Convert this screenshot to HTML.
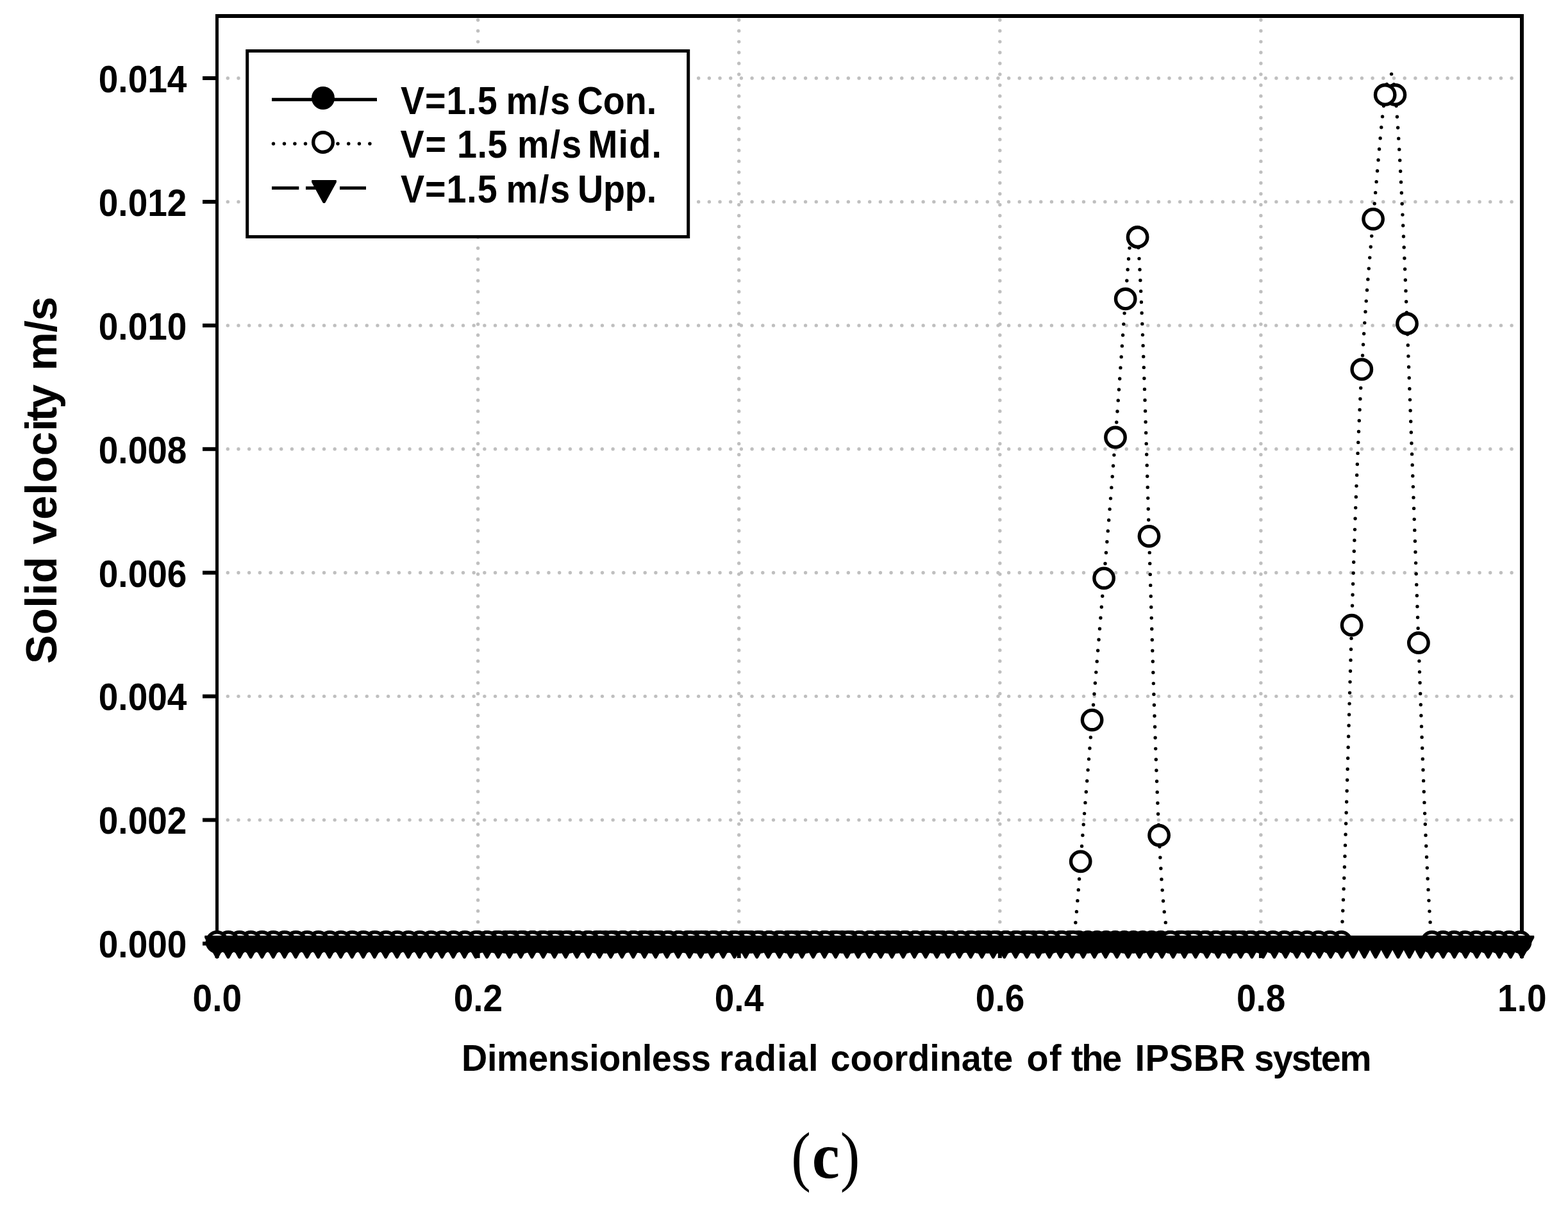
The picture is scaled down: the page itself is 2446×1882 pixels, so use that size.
<!DOCTYPE html>
<html lang="en">
<head>
<meta charset="utf-8">
<title>Solid velocity vs dimensionless radial coordinate of the IPSBR system (c)</title>
<style>
html,body{margin:0;padding:0;background:#fff;}
body{width:2446px;height:1882px;overflow:hidden;}
svg{display:block;}
</style>
</head>
<body>
<svg width="2446" height="1882" viewBox="0 0 2446 1882" shape-rendering="geometricPrecision">
<g stroke="#bfbfbf" stroke-width="5.4" stroke-linecap="round" stroke-dasharray="0 16.69" fill="none"><line x1="355.3" y1="1279.6" x2="2359.5" y2="1279.6"/><line x1="355.3" y1="1086.6" x2="2359.5" y2="1086.6"/><line x1="355.3" y1="893.7" x2="2359.5" y2="893.7"/><line x1="355.3" y1="700.8" x2="2359.5" y2="700.8"/><line x1="355.3" y1="507.9" x2="2359.5" y2="507.9"/><line x1="355.3" y1="314.9" x2="2359.5" y2="314.9"/><line x1="355.3" y1="122.0" x2="2359.5" y2="122.0"/></g>
<g stroke="#bfbfbf" stroke-width="5.4" stroke-linecap="round" stroke-dasharray="0 16.957" fill="none"><line x1="745.6" y1="31.2" x2="745.6" y2="1450"/><line x1="1152.7" y1="31.2" x2="1152.7" y2="1450"/><line x1="1559.8" y1="31.2" x2="1559.8" y2="1450"/><line x1="1966.9" y1="31.2" x2="1966.9" y2="1450"/></g>
<g fill="#000">
<rect x="336" y="22" width="2041" height="6"/>
<rect x="336" y="1469.5" width="2041" height="6"/>
<rect x="336" y="22" width="5" height="1453.5"/>
<rect x="2371" y="22" width="6" height="1453.5"/>
<rect x="316" y="1469.5" width="21" height="6"/>
<rect x="316" y="1276.6" width="21" height="6"/>
<rect x="316" y="1083.6" width="21" height="6"/>
<rect x="316" y="890.7" width="21" height="6"/>
<rect x="316" y="697.8" width="21" height="6"/>
<rect x="316" y="504.9" width="21" height="6"/>
<rect x="316" y="311.9" width="21" height="6"/>
<rect x="316" y="119.0" width="21" height="6"/>
<rect x="335.5" y="1472.5" width="6" height="22.6"/>
<rect x="742.6" y="1472.5" width="6" height="22.6"/>
<rect x="1149.7" y="1472.5" width="6" height="22.6"/>
<rect x="1556.8" y="1472.5" width="6" height="22.6"/>
<rect x="1963.9" y="1472.5" width="6" height="22.6"/>
<rect x="2371.0" y="1472.5" width="6" height="22.6"/>
</g>
<line x1="745.6" y1="1471.5" x2="1966.9" y2="1471.5" stroke="#000" stroke-width="5"/>
<g fill="#000"><circle cx="745.6" cy="1470.0" r="17.9"/><circle cx="759.8" cy="1470.0" r="17.9"/><circle cx="774.0" cy="1470.0" r="17.9"/><circle cx="788.2" cy="1470.0" r="17.9"/><circle cx="802.4" cy="1470.0" r="17.9"/><circle cx="816.6" cy="1470.0" r="17.9"/><circle cx="830.8" cy="1470.0" r="17.9"/><circle cx="845.0" cy="1470.0" r="17.9"/><circle cx="859.2" cy="1470.0" r="17.9"/><circle cx="873.4" cy="1470.0" r="17.9"/><circle cx="887.6" cy="1470.0" r="17.9"/><circle cx="901.8" cy="1470.0" r="17.9"/><circle cx="916.0" cy="1470.0" r="17.9"/><circle cx="930.2" cy="1470.0" r="17.9"/><circle cx="944.4" cy="1470.0" r="17.9"/><circle cx="958.6" cy="1470.0" r="17.9"/><circle cx="972.8" cy="1470.0" r="17.9"/><circle cx="987.0" cy="1470.0" r="17.9"/><circle cx="1001.2" cy="1470.0" r="17.9"/><circle cx="1015.4" cy="1470.0" r="17.9"/><circle cx="1029.6" cy="1470.0" r="17.9"/><circle cx="1043.8" cy="1470.0" r="17.9"/><circle cx="1058.0" cy="1470.0" r="17.9"/><circle cx="1072.2" cy="1470.0" r="17.9"/><circle cx="1086.4" cy="1470.0" r="17.9"/><circle cx="1100.6" cy="1470.0" r="17.9"/><circle cx="1114.8" cy="1470.0" r="17.9"/><circle cx="1129.0" cy="1470.0" r="17.9"/><circle cx="1143.2" cy="1470.0" r="17.9"/><circle cx="1157.4" cy="1470.0" r="17.9"/><circle cx="1171.6" cy="1470.0" r="17.9"/><circle cx="1185.8" cy="1470.0" r="17.9"/><circle cx="1200.0" cy="1470.0" r="17.9"/><circle cx="1214.2" cy="1470.0" r="17.9"/><circle cx="1228.4" cy="1470.0" r="17.9"/><circle cx="1242.6" cy="1470.0" r="17.9"/><circle cx="1256.8" cy="1470.0" r="17.9"/><circle cx="1271.0" cy="1470.0" r="17.9"/><circle cx="1285.2" cy="1470.0" r="17.9"/><circle cx="1299.4" cy="1470.0" r="17.9"/><circle cx="1313.6" cy="1470.0" r="17.9"/><circle cx="1327.8" cy="1470.0" r="17.9"/><circle cx="1342.0" cy="1470.0" r="17.9"/><circle cx="1356.2" cy="1470.0" r="17.9"/><circle cx="1370.5" cy="1470.0" r="17.9"/><circle cx="1384.7" cy="1470.0" r="17.9"/><circle cx="1398.9" cy="1470.0" r="17.9"/><circle cx="1413.1" cy="1470.0" r="17.9"/><circle cx="1427.3" cy="1470.0" r="17.9"/><circle cx="1441.5" cy="1470.0" r="17.9"/><circle cx="1455.7" cy="1470.0" r="17.9"/><circle cx="1469.9" cy="1470.0" r="17.9"/><circle cx="1484.1" cy="1470.0" r="17.9"/><circle cx="1498.3" cy="1470.0" r="17.9"/><circle cx="1512.5" cy="1470.0" r="17.9"/><circle cx="1526.7" cy="1470.0" r="17.9"/><circle cx="1540.9" cy="1470.0" r="17.9"/><circle cx="1555.1" cy="1470.0" r="17.9"/><circle cx="1569.3" cy="1470.0" r="17.9"/><circle cx="1583.5" cy="1470.0" r="17.9"/><circle cx="1597.7" cy="1470.0" r="17.9"/><circle cx="1611.9" cy="1470.0" r="17.9"/><circle cx="1626.1" cy="1470.0" r="17.9"/><circle cx="1640.3" cy="1470.0" r="17.9"/><circle cx="1654.5" cy="1470.0" r="17.9"/><circle cx="1668.7" cy="1470.0" r="17.9"/><circle cx="1682.9" cy="1470.0" r="17.9"/><circle cx="1697.1" cy="1470.0" r="17.9"/><circle cx="1711.3" cy="1470.0" r="17.9"/><circle cx="1725.5" cy="1470.0" r="17.9"/><circle cx="1739.7" cy="1470.0" r="17.9"/><circle cx="1753.9" cy="1470.0" r="17.9"/><circle cx="1768.1" cy="1470.0" r="17.9"/><circle cx="1782.3" cy="1470.0" r="17.9"/><circle cx="1796.5" cy="1470.0" r="17.9"/><circle cx="1810.7" cy="1470.0" r="17.9"/><circle cx="1824.9" cy="1470.0" r="17.9"/><circle cx="1839.1" cy="1470.0" r="17.9"/><circle cx="1853.3" cy="1470.0" r="17.9"/><circle cx="1867.5" cy="1470.0" r="17.9"/><circle cx="1881.7" cy="1470.0" r="17.9"/><circle cx="1895.9" cy="1470.0" r="17.9"/><circle cx="1910.1" cy="1470.0" r="17.9"/><circle cx="1924.3" cy="1470.0" r="17.9"/><circle cx="1938.5" cy="1470.0" r="17.9"/><circle cx="1952.7" cy="1470.0" r="17.9"/><circle cx="1966.9" cy="1470.0" r="17.9"/></g>
<clipPath id="plotclip"><rect x="338" y="25" width="2036" height="1449.5"/></clipPath>
<g stroke="#000" stroke-width="5.4" stroke-linecap="round" stroke-dasharray="0 16.96" fill="none" clip-path="url(#plotclip)">
<path d="M1674.0 1471.5C1677.93 1447.1 1681.82 1394.5 1685.7 1344.3C1691.67 1267.1 1697.63 1195.3 1703.6 1123.6C1709.77 1049.5 1715.93 975.5 1722.1 902.3C1728.07 831.4 1734.03 761.3 1740.0 682.5C1745.23 613.4 1750.47 537.7 1755.7 466.4C1758.57 427.3 1761.43 389.6 1764.3 366.5" stroke-dasharray="0 17.028" stroke-dashoffset="-15.23"/>
<path d="M1826.0 1471.5C1820.03 1460.1 1814.07 1428.9 1808.1 1303.6C1802.90 1194.4 1797.70 1013.8 1792.5 836.8C1786.53 633.7 1780.57 435.3 1774.6 370.0" stroke-dasharray="0 16.997" stroke-dashoffset="-15.93"/>
<path d="M2092.2 1471.5C2097.67 1384.1 2103.13 1156.9 2108.6 975.7C2113.83 802.2 2119.07 670.9 2124.3 576.4C2130.23 469.3 2136.17 409.5 2142.1 341.8C2148.30 271.0 2154.50 191.5 2160.7 147.9C2163.43 128.7 2166.17 116.4 2168.9 115.9" stroke-dasharray="0 16.996" stroke-dashoffset="-16.62"/>
<path d="M2233.8 1471.5C2226.87 1406.6 2219.88 1204.8 2212.9 1003.2C2206.93 831.0 2200.97 658.9 2195.0 505.0C2188.80 345.1 2182.60 204.9 2176.4 147.9C2174.00 125.9 2171.60 116.3 2169.2 115.9" stroke-dasharray="0 16.996" stroke-dashoffset="-15.59"/>
</g>
<circle cx="2170.6" cy="115.6" r="2.7" fill="#000"/>
<g fill="#fff" stroke="#000" stroke-width="5.4"><circle cx="2371.5" cy="1470.0" r="15.20"/><circle cx="2354.3" cy="1470.0" r="15.20"/><circle cx="2337.1" cy="1470.0" r="15.20"/><circle cx="2319.9" cy="1470.0" r="15.20"/><circle cx="2302.7" cy="1470.0" r="15.20"/><circle cx="2285.5" cy="1470.0" r="15.20"/><circle cx="2268.3" cy="1470.0" r="15.20"/><circle cx="2251.1" cy="1470.0" r="15.20"/><circle cx="2233.8" cy="1470.0" r="15.20"/><circle cx="2212.9" cy="1003.2" r="15.20"/><circle cx="2195.0" cy="505.0" r="15.20"/><circle cx="2176.4" cy="147.9" r="15.20"/><circle cx="2160.7" cy="147.9" r="15.20"/><circle cx="2142.1" cy="341.8" r="15.20"/><circle cx="2124.3" cy="576.4" r="15.20"/><circle cx="2108.6" cy="975.7" r="15.20"/><circle cx="2092.2" cy="1470.0" r="15.20"/><circle cx="2074.5" cy="1470.0" r="15.20"/><circle cx="2056.7" cy="1470.0" r="15.20"/><circle cx="2039.0" cy="1470.0" r="15.20"/><circle cx="2021.2" cy="1470.0" r="15.20"/><circle cx="2003.5" cy="1470.0" r="15.20"/><circle cx="1985.7" cy="1470.0" r="15.20"/><circle cx="1968.0" cy="1470.0" r="15.20"/><circle cx="1950.2" cy="1470.0" r="15.20"/><circle cx="1932.5" cy="1470.0" r="15.20"/><circle cx="1914.7" cy="1470.0" r="15.20"/><circle cx="1897.0" cy="1470.0" r="15.20"/><circle cx="1879.2" cy="1470.0" r="15.20"/><circle cx="1861.5" cy="1470.0" r="15.20"/><circle cx="1843.7" cy="1470.0" r="15.20"/><circle cx="1826.0" cy="1470.0" r="15.20"/><circle cx="1808.1" cy="1303.6" r="15.20"/><circle cx="1792.5" cy="836.8" r="15.20"/><circle cx="1774.6" cy="370.0" r="15.20"/><circle cx="1755.7" cy="466.4" r="15.20"/><circle cx="1740.0" cy="682.5" r="15.20"/><circle cx="1722.1" cy="902.3" r="15.20"/><circle cx="1703.6" cy="1123.6" r="15.20"/><circle cx="1685.7" cy="1344.3" r="15.20"/><circle cx="1674.0" cy="1470.0" r="15.20"/><circle cx="1656.5" cy="1470.0" r="15.20"/><circle cx="1638.9" cy="1470.0" r="15.20"/><circle cx="1621.3" cy="1470.0" r="15.20"/><circle cx="1603.8" cy="1470.0" r="15.20"/><circle cx="1586.2" cy="1470.0" r="15.20"/><circle cx="1568.6" cy="1470.0" r="15.20"/><circle cx="1551.0" cy="1470.0" r="15.20"/><circle cx="1533.5" cy="1470.0" r="15.20"/><circle cx="1515.9" cy="1470.0" r="15.20"/><circle cx="1498.3" cy="1470.0" r="15.20"/><circle cx="1480.7" cy="1470.0" r="15.20"/><circle cx="1463.2" cy="1470.0" r="15.20"/><circle cx="1445.6" cy="1470.0" r="15.20"/><circle cx="1428.0" cy="1470.0" r="15.20"/><circle cx="1410.5" cy="1470.0" r="15.20"/><circle cx="1392.9" cy="1470.0" r="15.20"/><circle cx="1375.3" cy="1470.0" r="15.20"/><circle cx="1357.7" cy="1470.0" r="15.20"/><circle cx="1340.2" cy="1470.0" r="15.20"/><circle cx="1322.6" cy="1470.0" r="15.20"/><circle cx="1305.0" cy="1470.0" r="15.20"/><circle cx="1287.4" cy="1470.0" r="15.20"/><circle cx="1269.9" cy="1470.0" r="15.20"/><circle cx="1252.3" cy="1470.0" r="15.20"/><circle cx="1234.7" cy="1470.0" r="15.20"/><circle cx="1217.2" cy="1470.0" r="15.20"/><circle cx="1199.6" cy="1470.0" r="15.20"/><circle cx="1182.0" cy="1470.0" r="15.20"/><circle cx="1164.4" cy="1470.0" r="15.20"/><circle cx="1146.9" cy="1470.0" r="15.20"/><circle cx="1129.3" cy="1470.0" r="15.20"/><circle cx="1111.7" cy="1470.0" r="15.20"/><circle cx="1094.1" cy="1470.0" r="15.20"/><circle cx="1076.6" cy="1470.0" r="15.20"/><circle cx="1059.0" cy="1470.0" r="15.20"/><circle cx="1041.4" cy="1470.0" r="15.20"/><circle cx="1023.8" cy="1470.0" r="15.20"/><circle cx="1006.3" cy="1470.0" r="15.20"/><circle cx="988.7" cy="1470.0" r="15.20"/><circle cx="971.1" cy="1470.0" r="15.20"/><circle cx="953.6" cy="1470.0" r="15.20"/><circle cx="936.0" cy="1470.0" r="15.20"/><circle cx="918.4" cy="1470.0" r="15.20"/><circle cx="900.8" cy="1470.0" r="15.20"/><circle cx="883.3" cy="1470.0" r="15.20"/><circle cx="865.7" cy="1470.0" r="15.20"/><circle cx="848.1" cy="1470.0" r="15.20"/><circle cx="830.5" cy="1470.0" r="15.20"/><circle cx="813.0" cy="1470.0" r="15.20"/><circle cx="795.4" cy="1470.0" r="15.20"/><circle cx="777.8" cy="1470.0" r="15.20"/><circle cx="760.3" cy="1470.0" r="15.20"/><circle cx="742.7" cy="1470.0" r="15.20"/><circle cx="725.1" cy="1470.0" r="15.20"/><circle cx="707.5" cy="1470.0" r="15.20"/><circle cx="690.0" cy="1470.0" r="15.20"/><circle cx="672.4" cy="1470.0" r="15.20"/><circle cx="654.8" cy="1470.0" r="15.20"/><circle cx="637.2" cy="1470.0" r="15.20"/><circle cx="619.7" cy="1470.0" r="15.20"/><circle cx="602.1" cy="1470.0" r="15.20"/><circle cx="584.5" cy="1470.0" r="15.20"/><circle cx="566.9" cy="1470.0" r="15.20"/><circle cx="549.4" cy="1470.0" r="15.20"/><circle cx="531.8" cy="1470.0" r="15.20"/><circle cx="514.2" cy="1470.0" r="15.20"/><circle cx="496.7" cy="1470.0" r="15.20"/><circle cx="479.1" cy="1470.0" r="15.20"/><circle cx="461.5" cy="1470.0" r="15.20"/><circle cx="443.9" cy="1470.0" r="15.20"/><circle cx="426.4" cy="1470.0" r="15.20"/><circle cx="408.8" cy="1470.0" r="15.20"/><circle cx="391.2" cy="1470.0" r="15.20"/><circle cx="373.6" cy="1470.0" r="15.20"/><circle cx="356.1" cy="1470.0" r="15.20"/><circle cx="338.5" cy="1470.0" r="15.20"/></g>
<g fill="#000" stroke="#000" stroke-width="1" stroke-linejoin="round"><polygon points="319.7,1460.5 357.3,1460.5 357.3,1463.5 339.8,1495.3 337.2,1495.3 319.7,1463.5"/><polygon points="337.2,1460.5 374.8,1460.5 374.8,1463.5 357.3,1495.3 354.7,1495.3 337.2,1463.5"/><polygon points="354.8,1460.5 392.4,1460.5 392.4,1463.5 374.9,1495.3 372.3,1495.3 354.8,1463.5"/><polygon points="372.3,1460.5 409.9,1460.5 409.9,1463.5 392.4,1495.3 389.8,1495.3 372.3,1463.5"/><polygon points="389.9,1460.5 427.5,1460.5 427.5,1463.5 410.0,1495.3 407.4,1495.3 389.9,1463.5"/><polygon points="407.4,1460.5 445.0,1460.5 445.0,1463.5 427.5,1495.3 424.9,1495.3 407.4,1463.5"/><polygon points="425.0,1460.5 462.6,1460.5 462.6,1463.5 445.1,1495.3 442.5,1495.3 425.0,1463.5"/><polygon points="442.5,1460.5 480.1,1460.5 480.1,1463.5 462.6,1495.3 460.0,1495.3 442.5,1463.5"/><polygon points="460.1,1460.5 497.7,1460.5 497.7,1463.5 480.2,1495.3 477.6,1495.3 460.1,1463.5"/><polygon points="477.6,1460.5 515.2,1460.5 515.2,1463.5 497.7,1495.3 495.1,1495.3 477.6,1463.5"/><polygon points="495.2,1460.5 532.8,1460.5 532.8,1463.5 515.3,1495.3 512.7,1495.3 495.2,1463.5"/><polygon points="512.7,1460.5 550.3,1460.5 550.3,1463.5 532.8,1495.3 530.2,1495.3 512.7,1463.5"/><polygon points="530.3,1460.5 567.9,1460.5 567.9,1463.5 550.4,1495.3 547.8,1495.3 530.3,1463.5"/><polygon points="547.8,1460.5 585.4,1460.5 585.4,1463.5 567.9,1495.3 565.3,1495.3 547.8,1463.5"/><polygon points="565.4,1460.5 603.0,1460.5 603.0,1463.5 585.5,1495.3 582.9,1495.3 565.4,1463.5"/><polygon points="582.9,1460.5 620.5,1460.5 620.5,1463.5 603.0,1495.3 600.4,1495.3 582.9,1463.5"/><polygon points="600.5,1460.5 638.1,1460.5 638.1,1463.5 620.6,1495.3 618.0,1495.3 600.5,1463.5"/><polygon points="618.0,1460.5 655.6,1460.5 655.6,1463.5 638.1,1495.3 635.5,1495.3 618.0,1463.5"/><polygon points="635.6,1460.5 673.2,1460.5 673.2,1463.5 655.7,1495.3 653.1,1495.3 635.6,1463.5"/><polygon points="653.1,1460.5 690.7,1460.5 690.7,1463.5 673.2,1495.3 670.6,1495.3 653.1,1463.5"/><polygon points="670.6,1460.5 708.2,1460.5 708.2,1463.5 690.7,1495.3 688.1,1495.3 670.6,1463.5"/><polygon points="688.2,1460.5 725.8,1460.5 725.8,1463.5 708.3,1495.3 705.7,1495.3 688.2,1463.5"/><polygon points="705.7,1460.5 743.3,1460.5 743.3,1463.5 725.8,1495.3 723.2,1495.3 705.7,1463.5"/><polygon points="723.3,1460.5 760.9,1460.5 760.9,1463.5 743.4,1495.3 740.8,1495.3 723.3,1463.5"/><polygon points="740.8,1460.5 778.4,1460.5 778.4,1463.5 760.9,1495.3 758.3,1495.3 740.8,1463.5"/><polygon points="758.4,1460.5 796.0,1460.5 796.0,1463.5 778.5,1495.3 775.9,1495.3 758.4,1463.5"/><polygon points="775.9,1460.5 813.5,1460.5 813.5,1463.5 796.0,1495.3 793.4,1495.3 775.9,1463.5"/><polygon points="793.5,1460.5 831.1,1460.5 831.1,1463.5 813.6,1495.3 811.0,1495.3 793.5,1463.5"/><polygon points="811.0,1460.5 848.6,1460.5 848.6,1463.5 831.1,1495.3 828.5,1495.3 811.0,1463.5"/><polygon points="828.6,1460.5 866.2,1460.5 866.2,1463.5 848.7,1495.3 846.1,1495.3 828.6,1463.5"/><polygon points="846.1,1460.5 883.7,1460.5 883.7,1463.5 866.2,1495.3 863.6,1495.3 846.1,1463.5"/><polygon points="863.7,1460.5 901.3,1460.5 901.3,1463.5 883.8,1495.3 881.2,1495.3 863.7,1463.5"/><polygon points="881.2,1460.5 918.8,1460.5 918.8,1463.5 901.3,1495.3 898.7,1495.3 881.2,1463.5"/><polygon points="898.8,1460.5 936.4,1460.5 936.4,1463.5 918.9,1495.3 916.3,1495.3 898.8,1463.5"/><polygon points="916.3,1460.5 953.9,1460.5 953.9,1463.5 936.4,1495.3 933.8,1495.3 916.3,1463.5"/><polygon points="933.9,1460.5 971.5,1460.5 971.5,1463.5 954.0,1495.3 951.4,1495.3 933.9,1463.5"/><polygon points="951.4,1460.5 989.0,1460.5 989.0,1463.5 971.5,1495.3 968.9,1495.3 951.4,1463.5"/><polygon points="969.0,1460.5 1006.6,1460.5 1006.6,1463.5 989.1,1495.3 986.5,1495.3 969.0,1463.5"/><polygon points="986.5,1460.5 1024.1,1460.5 1024.1,1463.5 1006.6,1495.3 1004.0,1495.3 986.5,1463.5"/><polygon points="1004.0,1460.5 1041.6,1460.5 1041.6,1463.5 1024.1,1495.3 1021.5,1495.3 1004.0,1463.5"/><polygon points="1021.6,1460.5 1059.2,1460.5 1059.2,1463.5 1041.7,1495.3 1039.1,1495.3 1021.6,1463.5"/><polygon points="1039.1,1460.5 1076.7,1460.5 1076.7,1463.5 1059.2,1495.3 1056.6,1495.3 1039.1,1463.5"/><polygon points="1056.7,1460.5 1094.3,1460.5 1094.3,1463.5 1076.8,1495.3 1074.2,1495.3 1056.7,1463.5"/><polygon points="1074.2,1460.5 1111.8,1460.5 1111.8,1463.5 1094.3,1495.3 1091.7,1495.3 1074.2,1463.5"/><polygon points="1091.8,1460.5 1129.4,1460.5 1129.4,1463.5 1111.9,1495.3 1109.3,1495.3 1091.8,1463.5"/><polygon points="1109.3,1460.5 1146.9,1460.5 1146.9,1463.5 1129.4,1495.3 1126.8,1495.3 1109.3,1463.5"/><polygon points="1126.9,1460.5 1164.5,1460.5 1164.5,1463.5 1147.0,1495.3 1144.4,1495.3 1126.9,1463.5"/><polygon points="1144.4,1460.5 1182.0,1460.5 1182.0,1463.5 1164.5,1495.3 1161.9,1495.3 1144.4,1463.5"/><polygon points="1162.0,1460.5 1199.6,1460.5 1199.6,1463.5 1182.1,1495.3 1179.5,1495.3 1162.0,1463.5"/><polygon points="1179.5,1460.5 1217.1,1460.5 1217.1,1463.5 1199.6,1495.3 1197.0,1495.3 1179.5,1463.5"/><polygon points="1197.1,1460.5 1234.7,1460.5 1234.7,1463.5 1217.2,1495.3 1214.6,1495.3 1197.1,1463.5"/><polygon points="1214.6,1460.5 1252.2,1460.5 1252.2,1463.5 1234.7,1495.3 1232.1,1495.3 1214.6,1463.5"/><polygon points="1232.2,1460.5 1269.8,1460.5 1269.8,1463.5 1252.3,1495.3 1249.7,1495.3 1232.2,1463.5"/><polygon points="1249.7,1460.5 1287.3,1460.5 1287.3,1463.5 1269.8,1495.3 1267.2,1495.3 1249.7,1463.5"/><polygon points="1267.3,1460.5 1304.9,1460.5 1304.9,1463.5 1287.4,1495.3 1284.8,1495.3 1267.3,1463.5"/><polygon points="1284.8,1460.5 1322.4,1460.5 1322.4,1463.5 1304.9,1495.3 1302.3,1495.3 1284.8,1463.5"/><polygon points="1302.4,1460.5 1340.0,1460.5 1340.0,1463.5 1322.5,1495.3 1319.9,1495.3 1302.4,1463.5"/><polygon points="1319.9,1460.5 1357.5,1460.5 1357.5,1463.5 1340.0,1495.3 1337.4,1495.3 1319.9,1463.5"/><polygon points="1337.5,1460.5 1375.0,1460.5 1375.0,1463.5 1357.5,1495.3 1355.0,1495.3 1337.5,1463.5"/><polygon points="1355.0,1460.5 1392.6,1460.5 1392.6,1463.5 1375.1,1495.3 1372.5,1495.3 1355.0,1463.5"/><polygon points="1372.5,1460.5 1410.1,1460.5 1410.1,1463.5 1392.6,1495.3 1390.0,1495.3 1372.5,1463.5"/><polygon points="1390.1,1460.5 1427.7,1460.5 1427.7,1463.5 1410.2,1495.3 1407.6,1495.3 1390.1,1463.5"/><polygon points="1407.6,1460.5 1445.2,1460.5 1445.2,1463.5 1427.7,1495.3 1425.1,1495.3 1407.6,1463.5"/><polygon points="1425.2,1460.5 1462.8,1460.5 1462.8,1463.5 1445.3,1495.3 1442.7,1495.3 1425.2,1463.5"/><polygon points="1442.7,1460.5 1480.3,1460.5 1480.3,1463.5 1462.8,1495.3 1460.2,1495.3 1442.7,1463.5"/><polygon points="1460.3,1460.5 1497.9,1460.5 1497.9,1463.5 1480.4,1495.3 1477.8,1495.3 1460.3,1463.5"/><polygon points="1477.8,1460.5 1515.4,1460.5 1515.4,1463.5 1497.9,1495.3 1495.3,1495.3 1477.8,1463.5"/><polygon points="1495.4,1460.5 1533.0,1460.5 1533.0,1463.5 1515.5,1495.3 1512.9,1495.3 1495.4,1463.5"/><polygon points="1512.9,1460.5 1550.5,1460.5 1550.5,1463.5 1533.0,1495.3 1530.4,1495.3 1512.9,1463.5"/><polygon points="1530.5,1460.5 1568.1,1460.5 1568.1,1463.5 1550.6,1495.3 1548.0,1495.3 1530.5,1463.5"/><polygon points="1548.0,1460.5 1585.6,1460.5 1585.6,1463.5 1568.1,1495.3 1565.5,1495.3 1548.0,1463.5"/><polygon points="1565.6,1460.5 1603.2,1460.5 1603.2,1463.5 1585.7,1495.3 1583.1,1495.3 1565.6,1463.5"/><polygon points="1583.1,1460.5 1620.7,1460.5 1620.7,1463.5 1603.2,1495.3 1600.6,1495.3 1583.1,1463.5"/><polygon points="1600.7,1460.5 1638.3,1460.5 1638.3,1463.5 1620.8,1495.3 1618.2,1495.3 1600.7,1463.5"/><polygon points="1618.2,1460.5 1655.8,1460.5 1655.8,1463.5 1638.3,1495.3 1635.7,1495.3 1618.2,1463.5"/><polygon points="1635.8,1460.5 1673.4,1460.5 1673.4,1463.5 1655.9,1495.3 1653.3,1495.3 1635.8,1463.5"/><polygon points="1653.3,1460.5 1690.9,1460.5 1690.9,1463.5 1673.4,1495.3 1670.8,1495.3 1653.3,1463.5"/><polygon points="1670.9,1460.5 1708.5,1460.5 1708.5,1463.5 1691.0,1495.3 1688.4,1495.3 1670.9,1463.5"/><polygon points="1688.4,1460.5 1726.0,1460.5 1726.0,1463.5 1708.5,1495.3 1705.9,1495.3 1688.4,1463.5"/><polygon points="1705.9,1460.5 1743.5,1460.5 1743.5,1463.5 1726.0,1495.3 1723.4,1495.3 1705.9,1463.5"/><polygon points="1723.5,1460.5 1761.1,1460.5 1761.1,1463.5 1743.6,1495.3 1741.0,1495.3 1723.5,1463.5"/><polygon points="1741.0,1460.5 1778.6,1460.5 1778.6,1463.5 1761.1,1495.3 1758.5,1495.3 1741.0,1463.5"/><polygon points="1758.6,1460.5 1796.2,1460.5 1796.2,1463.5 1778.7,1495.3 1776.1,1495.3 1758.6,1463.5"/><polygon points="1776.1,1460.5 1813.7,1460.5 1813.7,1463.5 1796.2,1495.3 1793.6,1495.3 1776.1,1463.5"/><polygon points="1793.7,1460.5 1831.3,1460.5 1831.3,1463.5 1813.8,1495.3 1811.2,1495.3 1793.7,1463.5"/><polygon points="1811.2,1460.5 1848.8,1460.5 1848.8,1463.5 1831.3,1495.3 1828.7,1495.3 1811.2,1463.5"/><polygon points="1828.8,1460.5 1866.4,1460.5 1866.4,1463.5 1848.9,1495.3 1846.3,1495.3 1828.8,1463.5"/><polygon points="1846.3,1460.5 1883.9,1460.5 1883.9,1463.5 1866.4,1495.3 1863.8,1495.3 1846.3,1463.5"/><polygon points="1863.9,1460.5 1901.5,1460.5 1901.5,1463.5 1884.0,1495.3 1881.4,1495.3 1863.9,1463.5"/><polygon points="1881.4,1460.5 1919.0,1460.5 1919.0,1463.5 1901.5,1495.3 1898.9,1495.3 1881.4,1463.5"/><polygon points="1899.0,1460.5 1936.6,1460.5 1936.6,1463.5 1919.1,1495.3 1916.5,1495.3 1899.0,1463.5"/><polygon points="1916.5,1460.5 1954.1,1460.5 1954.1,1463.5 1936.6,1495.3 1934.0,1495.3 1916.5,1463.5"/><polygon points="1934.1,1460.5 1971.7,1460.5 1971.7,1463.5 1954.2,1495.3 1951.6,1495.3 1934.1,1463.5"/><polygon points="1951.6,1460.5 1989.2,1460.5 1989.2,1463.5 1971.7,1495.3 1969.1,1495.3 1951.6,1463.5"/><polygon points="1969.2,1460.5 2006.8,1460.5 2006.8,1463.5 1989.3,1495.3 1986.7,1495.3 1969.2,1463.5"/><polygon points="1986.7,1460.5 2024.3,1460.5 2024.3,1463.5 2006.8,1495.3 2004.2,1495.3 1986.7,1463.5"/><polygon points="2004.3,1460.5 2041.9,1460.5 2041.9,1463.5 2024.4,1495.3 2021.8,1495.3 2004.3,1463.5"/><polygon points="2021.8,1460.5 2059.4,1460.5 2059.4,1463.5 2041.9,1495.3 2039.3,1495.3 2021.8,1463.5"/><polygon points="2039.3,1460.5 2076.9,1460.5 2076.9,1463.5 2059.4,1495.3 2056.8,1495.3 2039.3,1463.5"/><polygon points="2056.9,1460.5 2094.5,1460.5 2094.5,1463.5 2077.0,1495.3 2074.4,1495.3 2056.9,1463.5"/><polygon points="2074.4,1460.5 2112.0,1460.5 2112.0,1463.5 2094.5,1495.3 2091.9,1495.3 2074.4,1463.5"/><polygon points="2092.0,1460.5 2129.6,1460.5 2129.6,1463.5 2112.1,1495.3 2109.5,1495.3 2092.0,1463.5"/><polygon points="2109.5,1460.5 2147.1,1460.5 2147.1,1463.5 2129.6,1495.3 2127.0,1495.3 2109.5,1463.5"/><polygon points="2127.1,1460.5 2164.7,1460.5 2164.7,1463.5 2147.2,1495.3 2144.6,1495.3 2127.1,1463.5"/><polygon points="2144.6,1460.5 2182.2,1460.5 2182.2,1463.5 2164.7,1495.3 2162.1,1495.3 2144.6,1463.5"/><polygon points="2162.2,1460.5 2199.8,1460.5 2199.8,1463.5 2182.3,1495.3 2179.7,1495.3 2162.2,1463.5"/><polygon points="2179.7,1460.5 2217.3,1460.5 2217.3,1463.5 2199.8,1495.3 2197.2,1495.3 2179.7,1463.5"/><polygon points="2197.3,1460.5 2234.9,1460.5 2234.9,1463.5 2217.4,1495.3 2214.8,1495.3 2197.3,1463.5"/><polygon points="2214.8,1460.5 2252.4,1460.5 2252.4,1463.5 2234.9,1495.3 2232.3,1495.3 2214.8,1463.5"/><polygon points="2232.4,1460.5 2270.0,1460.5 2270.0,1463.5 2252.5,1495.3 2249.9,1495.3 2232.4,1463.5"/><polygon points="2249.9,1460.5 2287.5,1460.5 2287.5,1463.5 2270.0,1495.3 2267.4,1495.3 2249.9,1463.5"/><polygon points="2267.5,1460.5 2305.1,1460.5 2305.1,1463.5 2287.6,1495.3 2285.0,1495.3 2267.5,1463.5"/><polygon points="2285.0,1460.5 2322.6,1460.5 2322.6,1463.5 2305.1,1495.3 2302.5,1495.3 2285.0,1463.5"/><polygon points="2302.6,1460.5 2340.2,1460.5 2340.2,1463.5 2322.7,1495.3 2320.1,1495.3 2302.6,1463.5"/><polygon points="2320.1,1460.5 2357.7,1460.5 2357.7,1463.5 2340.2,1495.3 2337.6,1495.3 2320.1,1463.5"/><polygon points="2337.7,1460.5 2375.3,1460.5 2375.3,1463.5 2357.8,1495.3 2355.2,1495.3 2337.7,1463.5"/><polygon points="2355.2,1460.5 2392.8,1460.5 2392.8,1463.5 2375.3,1495.3 2372.7,1495.3 2355.2,1463.5"/></g>
<rect x="385.7" y="79.5" width="688" height="290" fill="#fff" stroke="#000" stroke-width="5"/>
<line x1="424" y1="155.4" x2="588" y2="155.4" stroke="#000" stroke-width="5.2"/>
<circle cx="504" cy="153" r="18" fill="#000"/>
<g fill="#000"><circle cx="426.5" cy="224.3" r="2.7"/><circle cx="443.5" cy="224.3" r="2.7"/><circle cx="459.9" cy="224.3" r="2.7"/><circle cx="476.5" cy="224.3" r="2.7"/><circle cx="527" cy="224.3" r="2.7"/><circle cx="543.7" cy="224.3" r="2.7"/><circle cx="560.4" cy="224.3" r="2.7"/><circle cx="576.9" cy="224.3" r="2.7"/></g>
<circle cx="504" cy="222" r="15.3" fill="#fff" stroke="#000" stroke-width="5.4"/>
<g fill="#000"><rect x="424" y="290.9" width="42.3" height="5"/><rect x="477" y="290.9" width="20" height="5"/><rect x="530" y="290.9" width="41" height="5"/></g>
<g fill="#000" stroke="#000" stroke-width="1" stroke-linejoin="round"><polygon points="486.7,281.5 524.3,281.5 524.3,284.5 506.8,316.5 504.2,316.5 486.7,284.5"/></g>
<g font-family="'Liberation Sans', Arial, Helvetica, sans-serif" font-weight="bold" fill="#000">
<text transform="translate(291.4,1494.3) scale(1,1.09)" font-size="55.0" text-anchor="end">0.000</text>
<text transform="translate(291.4,1301.4) scale(1,1.09)" font-size="55.0" text-anchor="end">0.002</text>
<text transform="translate(291.4,1108.4) scale(1,1.09)" font-size="55.0" text-anchor="end">0.004</text>
<text transform="translate(291.4,915.5) scale(1,1.09)" font-size="55.0" text-anchor="end">0.006</text>
<text transform="translate(291.4,722.6) scale(1,1.09)" font-size="55.0" text-anchor="end">0.008</text>
<text transform="translate(291.4,529.7) scale(1,1.09)" font-size="55.0" text-anchor="end">0.010</text>
<text transform="translate(291.4,336.7) scale(1,1.09)" font-size="55.0" text-anchor="end">0.012</text>
<text transform="translate(291.4,143.8) scale(1,1.09)" font-size="55.0" text-anchor="end">0.014</text>
<text transform="translate(338.8,1578.4) scale(1,1.09)" font-size="55.0" text-anchor="middle">0.0</text>
<text transform="translate(745.9,1578.4) scale(1,1.09)" font-size="55.0" text-anchor="middle">0.2</text>
<text transform="translate(1153.0,1578.4) scale(1,1.09)" font-size="55.0" text-anchor="middle">0.4</text>
<text transform="translate(1560.1,1578.4) scale(1,1.09)" font-size="55.0" text-anchor="middle">0.6</text>
<text transform="translate(1967.2,1578.4) scale(1,1.09)" font-size="55.0" text-anchor="middle">0.8</text>
<text transform="translate(2374.3,1578.4) scale(1,1.09)" font-size="55.0" text-anchor="middle">1.0</text>
<text transform="translate(625.0,177.5) scale(1,1.085)" font-size="55.7" xml:space="preserve"><tspan x="0.0" letter-spacing="0.9">V=1.5 </tspan><tspan x="164.5" letter-spacing="1.9">m/s </tspan><tspan x="275.5">Con.</tspan></text>
<text transform="translate(625.0,246.4) scale(1,1.085)" font-size="55.7" xml:space="preserve"><tspan x="-0.5" letter-spacing="1.8">V= </tspan><tspan x="88.0" letter-spacing="0.5">1.5 </tspan><tspan x="182.0" letter-spacing="2.1">m/s </tspan><tspan x="292.0" letter-spacing="1.2">Mid.</tspan></text>
<text transform="translate(625.0,315.5) scale(1,1.085)" font-size="55.7" xml:space="preserve"><tspan x="0.0" letter-spacing="0.9">V=1.5 </tspan><tspan x="164.5" letter-spacing="1.9">m/s </tspan><tspan x="276.0" letter-spacing="-0.2">Upp.</tspan></text>
<text transform="translate(720.0,1671.1) scale(1,1.04)" font-size="55.7" xml:space="preserve"><tspan x="0.0" letter-spacing="-0.33">Dimensionless </tspan><tspan x="402.0" letter-spacing="1.2">radial </tspan><tspan x="575.5">coordinate </tspan><tspan x="881.5" letter-spacing="1.6">of </tspan><tspan x="951.0" letter-spacing="-2.2">the </tspan><tspan x="1050.5" letter-spacing="0.5">IPSBR </tspan><tspan x="1236.5" letter-spacing="-1.8">system</tspan></text>
<text transform="translate(87.5,1037) rotate(-90) scale(1,1.025)" font-size="67.6" xml:space="preserve"><tspan x="0.9" letter-spacing="0.55">Solid </tspan><tspan x="187.6" letter-spacing="0.74">veloc</tspan><tspan x="364.0" letter-spacing="-2.9">ity </tspan><tspan x="458.6" letter-spacing="-0.5">m/s</tspan></text>
</g>
<g font-family="'Liberation Serif', 'Times New Roman', serif" fill="#000" font-size="102"><text y="1838.5" font-size="104.65"><tspan x="1234.3" textLength="30.6" lengthAdjust="spacingAndGlyphs">(</tspan><tspan x="1266.7" y="1838" font-size="102" font-weight="bold" textLength="43" lengthAdjust="spacingAndGlyphs">c</tspan><tspan x="1310.7" y="1838.5" textLength="30.6" lengthAdjust="spacingAndGlyphs">)</tspan></text></g>
</svg>
</body>
</html>
